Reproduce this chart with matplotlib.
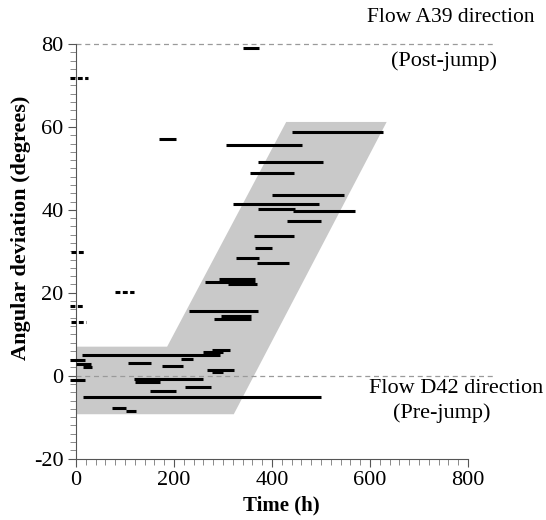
import matplotlib
matplotlib.use("Agg")
import matplotlib.pyplot as plt
from matplotlib.ticker import MultipleLocator
from matplotlib.patches import Polygon

# ---- data ----
# solid segments: start time (h), end time (h), angular deviation (deg)
seg_start = [340, 170, 441, 307, 372, 355, 399, 320, 372, 443, 431, 363, 365, 327, 369,
             263, 292, 310, 231, 295, 282,
             13, 260, 277, 214, -12, 1, 15, 107, 175, 268, 277, -12, 118, 120, 152, 223, 14, 73, 102]
seg_end = [374, 205, 627, 461, 505, 445, 546, 495, 447, 570, 501, 445, 401, 374, 435,
           366, 365, 369, 372, 358, 357,
           294, 301, 314, 238, 18, 30, 33, 154, 218, 323, 299, 18, 260, 171, 204, 276, 501, 102, 123]
seg_angle = [79.0, 57.2, 58.8, 55.6, 51.5, 49.0, 43.5, 41.5, 40.3, 39.8, 37.2, 33.8, 30.9, 28.5, 27.1,
             22.7, 23.2, 22.0, 15.5, 14.3, 13.6,
             5.0, 5.6, 6.1, 4.0, 3.8, 2.7, 2.1, 3.0, 2.3, 1.4, 0.8, -1.0, -0.7, -1.5, -3.6, -2.7, -5.1, -7.9, -8.4]

# dashed (short) segments
dash_start = [-12, -11, 80, -12, -10]
dash_end = [24, 16, 118, 16, 20]
dash_angle = [71.7, 29.8, 20.1, 16.8, 12.9]

# shaded band outline (time, angle)
band_time = [0, 0, 186, 429, 634, 322]
band_angle = [-9.3, 7.0, 7.0, 61.2, 61.2, -9.3]

post_jump_angle = 80
pre_jump_angle = 0

x_ticks = [0, 200, 400, 600, 800]
y_ticks = [-20, 0, 20, 40, 60, 80]

# ---- plot ----
plt.rcParams['font.family'] = ['Liberation Serif', 'DejaVu Serif']
plt.rcParams['axes.unicode_minus'] = False

fig = plt.figure(figsize=(5.46, 5.20), dpi=100)
ax = fig.add_axes([76/546, 61.4/520, 392/546, 414.6/520])

ax.add_patch(Polygon(list(zip(band_time, band_angle)), closed=True,
                     facecolor='#c9c9c9', edgecolor='none', zorder=1))

for yref in (post_jump_angle, pre_jump_angle):
    ax.plot([0, 850], [yref, yref], color='#9a9a9a', lw=0.9,
            linestyle=(0, (4, 3)), clip_on=False, zorder=2)

for s, e, a in zip(seg_start, seg_end, seg_angle):
    ax.plot([s, e], [a, a], color='black', lw=2.2, solid_capstyle='butt',
            clip_on=False, zorder=3)

for s, e, a in zip(dash_start, dash_end, dash_angle):
    ax.plot([s, e], [a, a], color='black', lw=2.2, linestyle=(0, (1.6, 0.8)),
            dash_capstyle='butt', clip_on=False, zorder=3)

ax.set_xlim(0, 800)
ax.set_ylim(-20, 80)
ax.spines['top'].set_visible(False)
ax.spines['right'].set_visible(False)
ax.spines['left'].set_color('#555555')
ax.spines['bottom'].set_color('#555555')

ax.set_xticks(x_ticks)
ax.set_yticks(y_ticks)
ax.xaxis.set_minor_locator(MultipleLocator(20))
ax.yaxis.set_minor_locator(MultipleLocator(2))
ax.tick_params(which='major', length=6, width=0.8, color='#555555', labelsize=16, pad=3)
ax.tick_params(which='minor', length=4, width=0.6, color='#777777')

ax.set_xlabel('Time (h)', fontsize=15, fontweight='bold')
ax.set_ylabel('Angular deviation (degrees)', fontsize=16, fontweight='bold')
ax.xaxis.set_label_coords(0.523, -0.09)
ax.yaxis.set_label_coords(-0.115, 0.556)

ax.text(765, 86.4, 'Flow A39 direction', fontsize=15.5, ha='center', va='center', clip_on=False)
ax.text(751, 75.8, '(Post-jump)', fontsize=16, ha='center', va='center', clip_on=False)
ax.text(775, -3.0, 'Flow D42 direction', fontsize=16, ha='center', va='center', clip_on=False)
ax.text(746, -9.0, '(Pre-jump)', fontsize=16, ha='center', va='center', clip_on=False)

fig.savefig('out.png', dpi=100)
